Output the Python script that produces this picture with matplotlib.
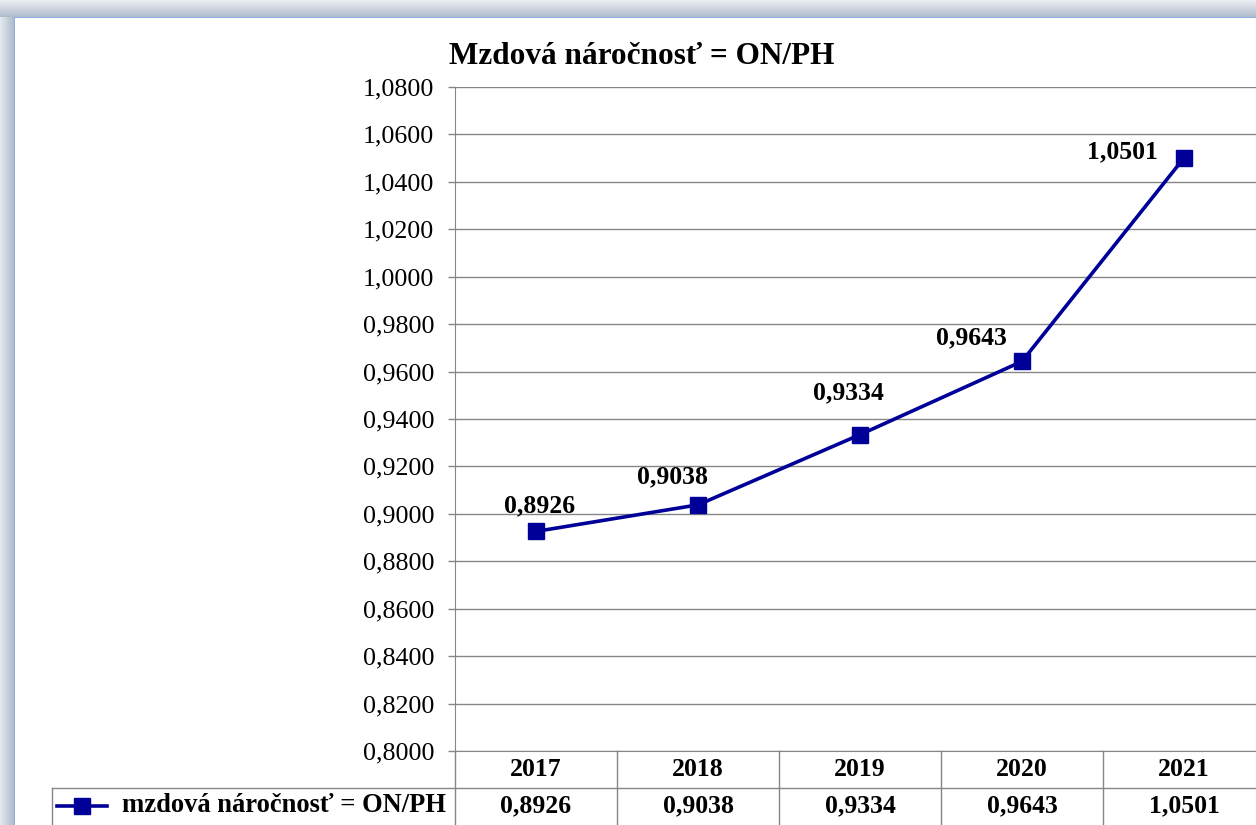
import matplotlib.pyplot as plt
from matplotlib.lines import Line2D
import numpy as np

# data
years = ['2017', '2018', '2019', '2020', '2021']
values = [0.8926, 0.9038, 0.9334, 0.9643, 1.0501]
series_name = 'mzdová náročnosť = ON/PH'
title = 'Mzdová náročnosť = ON/PH'
y_ticks = [0.80, 0.82, 0.84, 0.86, 0.88, 0.90, 0.92, 0.94, 0.96, 0.98, 1.00, 1.02, 1.04, 1.06, 1.08]

# label offsets (pixels) - Excel labels were nudged by hand
label_offsets = [(4, 26), (-26, 28), (-12, 42), (-51, 24), (-62, 6)]

W, H = 1256, 825
plt.rcParams['font.family'] = ['Liberation Serif', 'DejaVu Serif']
fig = plt.figure(figsize=(W / 100, H / 100), dpi=100)

# frame with soft shadow on top/left
bg = np.ones((H, W, 3))
shade = np.array([0.69, 0.74, 0.80])
for r in range(17):
    t = 0.25 + 0.75 * (r / 16)
    bg[r, :, :] = 1 - t * (1 - shade)
for c in range(14):
    t = 0.35 + 0.65 * (c / 13)
    col = 1 - t * (1 - shade)
    bg[17:, c, :] = np.minimum(bg[17:, c, :], col)
bg[17, 14:, :] = [0.55, 0.69, 0.89]
bg[17:, 14, :] = [0.55, 0.69, 0.89]
bax = fig.add_axes([0, 0, 1, 1])
bax.imshow(bg, aspect='auto', interpolation='nearest')
bax.axis('off')

def fx(px):
    return px / W

def fy(py):
    return 1 - py / H

left, right, top, bottom = 455, 1265, 87, 751
ax = fig.add_axes([fx(left), fy(bottom), (right - left) / W, (bottom - top) / H])
ax.set_facecolor('none')

x = np.arange(len(years))
color = '#000099'
ax.plot(x, values, color=color, lw=2.6, marker='s', markersize=11.5)

for i, v in enumerate(values):
    dx, dy = label_offsets[i]
    ax.annotate(f'{v:.4f}'.replace('.', ','), (x[i], v), xytext=(dx, dy),
                textcoords='offset pixels', ha='center', va='center',
                fontsize=18.5, fontweight='bold')

ax.set_xlim(-0.5, len(years) - 0.5)
ax.set_ylim(0.80, 1.08)
ax.set_yticks(y_ticks)
ax.set_yticklabels([f'{t:.4f}'.replace('.', ',') for t in y_ticks], fontsize=18.7)
ax.tick_params(axis='y', length=5, width=1, color='#868686', pad=10)
ax.set_xticks([])
ax.grid(axis='y', color='#868686', lw=1)
ax.set_axisbelow(True)
for s in ['top', 'right']:
    ax.spines[s].set_visible(False)
ax.spines['left'].set_color('#868686')
ax.spines['bottom'].set_color('#868686')

# data table below the plot
pw = right - left
ph = bottom - top
def axx(px):
    return (px - left) / pw

def axy(py):
    return (bottom - py) / ph

gc = '#868686'
row1, row2, row3 = 751, 788, 830
lines = [
    ([axx(52), axx(1300)], [axy(row2), axy(row2)]),
    ([axx(52), axx(52)], [axy(row2), axy(row3)]),
]
for i in range(len(years) + 1):
    xb = axx(left + i * pw / len(years))
    lines.append(([xb, xb], [axy(row1), axy(row3)]))
for xs, ys in lines:
    ax.add_line(Line2D(xs, ys, transform=ax.transAxes, color=gc, lw=1, clip_on=False))

for i, yr in enumerate(years):
    xc = axx(left + (i + 0.5) * pw / len(years))
    ax.text(xc, axy(770), yr, transform=ax.transAxes, ha='center', va='center',
            fontsize=18.5, fontweight='bold')
    ax.text(xc, axy(806), f'{values[i]:.4f}'.replace('.', ','), transform=ax.transAxes,
            ha='center', va='center', fontsize=18.5, fontweight='bold')

# legend key inside table
ax.add_line(Line2D([axx(57), axx(107)], [axy(806), axy(806)], transform=ax.transAxes,
                   color=color, lw=2.6, clip_on=False))
ax.add_line(Line2D([axx(82)], [axy(806)], transform=ax.transAxes, color=color,
                   marker='s', markersize=11.5, clip_on=False))
ax.text(axx(122), axy(806), series_name, transform=ax.transAxes, ha='left', va='center',
        fontsize=19.1, fontweight='bold')

fig.text(fx(642), fy(57), title, ha='center', va='center', fontsize=22.5, fontweight='bold')

fig.savefig('out.png', dpi=100)
